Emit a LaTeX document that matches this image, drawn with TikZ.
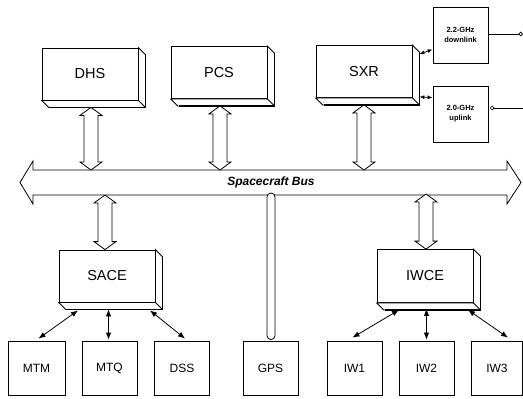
\documentclass[tikz,border=0pt]{standalone}
\usepackage{fontspec}
\setmainfont{Liberation Sans}
\usetikzlibrary{calc,arrows.meta}
\tikzset{
 front/.style={draw, line width=0.8pt, fill=white, minimum width=96pt, minimum height=52pt, inner sep=0pt, font=\fontsize{14.5}{16}\selectfont},
 plain/.style={draw, line width=0.8pt, fill=white, minimum width=55pt, minimum height=54pt, inner sep=0pt, font=\fontsize{12}{14}\selectfont},
 rfbox/.style={draw, line width=0.8pt, fill=white, minimum width=55pt, minimum height=56pt, inner sep=0pt, align=center, font=\fontsize{7.5}{10}\selectfont\bfseries},
 barrow/.style={draw, line width=0.8pt, fill=white, line join=miter},
 link/.style={line width=0.8pt, {Latex[length=7pt,width=5.5pt]}-{Latex[length=7pt,width=5.5pt]}},
 sideface/.style={draw, line width=0.8pt, fill=white},
 rfline/.style={line width=0.7pt},
}
\newcommand\boxsides[1]{%
 \filldraw[sideface] (#1.north east) -- ++(7,7) |- ($(#1.south west)+(7,7)$) -- (#1.south west) -- (#1.south east) -- cycle;
 \draw[line width=0.8pt] (#1.south east) -- ++(7,7);
 \draw[line width=1.8pt] ($(#1.north east)+(7,8)$) -- ($(#1.south east)+(7,7)$) -- ($(#1.south west)+(8,7)$);
}
\newcommand\vdarrow[2]{%
 \draw[barrow] let \p1=#1, \p2=#2 in (\x1,\y1) -- (\x1+11pt,\y1-8pt) -- (\x1+7pt,\y1-8pt) -- (\x1+7pt,\y2+8pt) -- (\x1+11pt,\y2+8pt) -- (\x1,\y2) -- (\x1-11pt,\y2+8pt) -- (\x1-7pt,\y2+8pt) -- (\x1-7pt,\y1-8pt) -- (\x1-11pt,\y1-8pt) -- cycle;
}
\begin{document}
\begin{tikzpicture}[x=1pt,y=-1pt]
\useasboundingbox (0,0) rectangle (523,399);
% bus
\coordinate (bustop) at (0,170);
\coordinate (busbot) at (0,195);
\coordinate (busL) at (20,182.5);
\coordinate (busR) at (521,182.5);
\draw[barrow] (busL) -- (33,161) -- (33,170) -- (507,170) -- (507,161) -- (busR) -- (507,204) -- (507,195) -- (33,195) -- (33,204) -- cycle;
\node[font=\fontsize{12}{14}\selectfont\bfseries\itshape] (buslabel) at (271,182.5) {Spacecraft Bus};
% top boxes
\node[front] (dhs) at (90,74) {DHS};
\boxsides{dhs}
\node[front] (pcs) at (219,72.5) {PCS};
\boxsides{pcs}
\node[front] (sxr) at (364,71.5) {SXR};
\boxsides{sxr}
% RF boxes
\node[rfbox] (down) at (460.5,35) {2.2-GHz\\downlink};
\node[rfbox] (up) at (460.5,114) {2.0-GHz\\uplink};
\coordinate (downout) at (523,34);
\coordinate (upin) at (523,108);
\draw[rfline, -{Circle[open,length=4.5pt]}] ($(down.east)+(0,-1)$) -- (downout);
\draw[rfline, -{Circle[open,length=4.5pt]}] (upin) -- ($(up.east)+(1.5,-6)$);
\draw[link, {Latex[length=5pt,width=4pt]}-{Latex[length=5pt,width=4pt]}] ($(sxr.north east)+(7,9)$) -- ($(down.south west)+(0,-14)$);
\draw[link, {Latex[length=5pt,width=4pt]}-{Latex[length=5pt,width=4pt]}] ($(sxr.south east)+(7,-1)$) -- ($(up.north west)+(0,12)$);
% middle boxes
\node[front] (sace) at (107,276) {SACE};
\boxsides{sace}
\node[front, minimum height=53pt] (iwce) at (425,276) {IWCE};
\boxsides{iwce}
% bottom boxes
\node[plain, minimum width=57pt] (mtm) at (36.5,368) {MTM};
\node[plain] (mtq) at (109.5,368) {MTQ};
\node[plain] (dss) at (182,368) {DSS};
\node[plain] (gps) at (270.5,368) {GPS};
\node[plain] (iw1) at (354.5,368) {IW1};
\node[plain] (iw2) at (426.5,368) {IW2};
\node[plain, minimum width=51pt] (iw3) at (497,368) {IW3};
% block arrows to bus
\vdarrow{($(dhs.south)+(1,7)$)}{($(dhs.south |- bustop)+(1,0)$)}
\vdarrow{($(pcs.south)+(1,7)$)}{($(pcs.south |- bustop)+(1,0)$)}
\vdarrow{($(sxr.south)+(0,7)$)}{(sxr.south |- bustop)}
\vdarrow{($(sace.north |- busbot)+(-2,0)$)}{($(sace.north)+(-2,0)$)}
\vdarrow{($(iwce.north |- busbot)+(1,-1)$)}{($(iwce.north)+(1,0)$)}
% GPS tube
\draw[barrow, rounded corners=4pt] ($(gps.north)+(-3.5,-1)$) rectangle ($(gps.north |- busbot)+(4.5,-2)$);
% links
\draw[link] ($(sace.south)+(-29,8)$) -- ($(mtm.north)+(2,-2)$);
\draw[link] ($(mtq.north |- sace.south)+(-1,7)$) -- ($(mtq.north)+(-1,-1)$);
\draw[link] ($(sace.south)+(43,8)$) -- ($(dss.north)+(3,-2)$);
\draw[link] ($(iwce.south)+(-26,7)$) -- ($(iw1.north)+(-2,-3)$);
\draw[link] ($(iw2.north |- iwce.south)+(0,6)$) -- ($(iw2.north)+(0,-1)$);
\draw[link] ($(iwce.south)+(43,7)$) -- ($(iw3.north)+(11,-3)$);
\end{tikzpicture}
\end{document}
